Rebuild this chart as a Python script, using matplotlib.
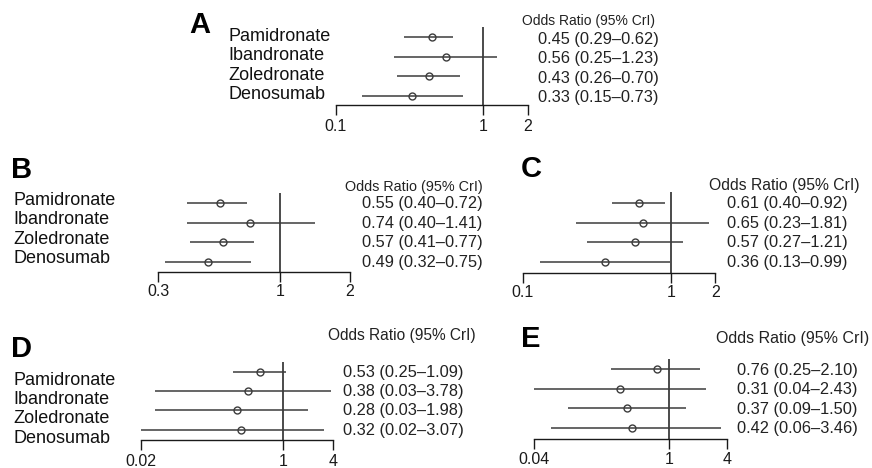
import matplotlib
matplotlib.use('Agg')
import matplotlib.pyplot as plt
import matplotlib.transforms as mtrans
from matplotlib.ticker import NullLocator, FixedLocator, FixedFormatter

plt.rcParams['font.family'] = ['Liberation Sans', 'DejaVu Sans']

W, H, DPI = 872, 468, 100

drugs = ['Pamidronate', 'Ibandronate', 'Zoledronate', 'Denosumab']
header = 'Odds Ratio (95% CrI)'

# ---- data ----
or_A = [0.45, 0.56, 0.43, 0.33]
lo_A = [0.29, 0.25, 0.26, 0.15]
hi_A = [0.62, 1.23, 0.70, 0.73]
ticks_A = [0.1, 1, 2]
tlabels_A = ['0.1', '1', '2']

or_B = [0.55, 0.74, 0.57, 0.49]
lo_B = [0.40, 0.40, 0.41, 0.32]
hi_B = [0.72, 1.41, 0.77, 0.75]
ticks_B = [0.3, 1, 2]
tlabels_B = ['0.3', '1', '2']

or_C = [0.61, 0.65, 0.57, 0.36]
lo_C = [0.40, 0.23, 0.27, 0.13]
hi_C = [0.92, 1.81, 1.21, 0.99]
ticks_C = [0.1, 1, 2]
tlabels_C = ['0.1', '1', '2']

or_D = [0.53, 0.38, 0.28, 0.32]
lo_D = [0.25, 0.03, 0.03, 0.02]
hi_D = [1.09, 3.78, 1.98, 3.07]
ticks_D = [0.02, 1, 4]
tlabels_D = ['0.02', '1', '4']

or_E = [0.76, 0.31, 0.37, 0.42]
lo_E = [0.25, 0.04, 0.09, 0.06]
hi_E = [2.10, 2.43, 1.50, 3.46]
ticks_E = [0.04, 1, 4]
tlabels_E = ['0.04', '1', '4']

# ---- layout (pixels from top-left) ----
panels = [
    dict(letter='A', d=(or_A, lo_A, hi_A), ticks=ticks_A, tl=tlabels_A,
         x0=335.7, x1=527.7, row0=37.3, row3=95.7, axis=105, top=27,
         lab_x=228, lab_off=3.5, let=(189, 33), hdr=(522, 25), hdr_fs=10.0,
         val_x=537.7, val_off=6.5, pad=3.0),
    dict(letter='B', d=(or_B, lo_B, hi_B), ticks=ticks_B, tl=tlabels_B,
         x0=158.3, x1=350, row0=203.3, row3=261.5, axis=272.3, top=193,
         lab_x=13, lab_off=1.5, let=(11, 178.5), hdr=(345, 191.5), hdr_fs=10.4,
         val_x=361.7, val_off=5, pad=1.6),
    dict(letter='C', d=(or_C, lo_C, hi_C), ticks=ticks_C, tl=tlabels_C,
         x0=522.7, x1=715.3, row0=203, row3=261.7, axis=272.7, top=191.7,
         lab_x=None, lab_off=0, let=(521, 177), hdr=(709.3, 190), hdr_fs=11.3,
         val_x=727, val_off=5, pad=1.6),
    dict(letter='D', d=(or_D, lo_D, hi_D), ticks=ticks_D, tl=tlabels_D,
         x0=140.7, x1=333.3, row0=371.7, row3=429.7, axis=440, top=361.7,
         lab_x=13, lab_off=13, let=(11, 356.7), hdr=(328.3, 340), hdr_fs=11.2,
         val_x=343.3, val_off=5, pad=3.0),
    dict(letter='E', d=(or_E, lo_E, hi_E), ticks=ticks_E, tl=tlabels_E,
         x0=534, x1=726.7, row0=369.3, row3=428, axis=439.3, top=359.3,
         lab_x=None, lab_off=0, let=(521, 346.7), hdr=(716, 343), hdr_fs=11.5,
         val_x=736.7, val_off=5.5, pad=2.1),
]

fig = plt.figure(figsize=(W / DPI, H / DPI), dpi=DPI)
fig.patch.set_facecolor('white')

def fx(x):
    return x / W

def fy(y):
    return 1 - y / H

LINE = '#3c3c3c'
AXC = '#1a1a1a'

for p in panels:
    ors, los, his = p['d']
    ax = fig.add_axes([fx(p['x0']), fy(p['axis']),
                       (p['x1'] - p['x0']) / W, (p['axis'] - p['top']) / H])
    ax.set_xscale('log')
    ax.set_xlim(p['ticks'][0], p['ticks'][-1])
    s = (p['row3'] - p['row0']) / 3.0
    ax.set_ylim(3 + (p['axis'] - p['row3']) / s, -(p['row0'] - p['top']) / s)
    ax.patch.set_alpha(0)
    for sp in ['top', 'right', 'left']:
        ax.spines[sp].set_visible(False)
    ax.spines['bottom'].set_linewidth(1.0)
    ax.spines['bottom'].set_color(AXC)
    ax.xaxis.set_major_locator(FixedLocator(p['ticks']))
    ax.xaxis.set_major_formatter(FixedFormatter(p['tl']))
    ax.xaxis.set_minor_locator(NullLocator())
    ax.tick_params(axis='x', direction='out', length=7, width=1.0, color=AXC,
                   labelsize=11.5, pad=p['pad'], labelcolor='#1a1a1a')
    ax.set_yticks([])

    ax.axvline(1, color=AXC, lw=1.1, zorder=1)
    ypos = list(range(len(drugs)))
    for i in ypos:
        ax.plot([los[i], his[i]], [i, i], color=LINE, lw=1.1, zorder=2,
                clip_on=False, solid_capstyle='butt')
    ax.plot(ors, ypos, linestyle='none', marker='o', markersize=5,
            markerfacecolor='none', markeredgecolor=LINE, markeredgewidth=1.0,
            zorder=3, clip_on=False)

    tr_lab = mtrans.blended_transform_factory(fig.transFigure, ax.transData)
    if p['lab_x'] is not None:
        t = mtrans.offset_copy(tr_lab, fig=fig, x=0, y=-p['lab_off'], units='dots')
        for i, name in enumerate(drugs):
            fig.text(fx(p['lab_x']), i, name, transform=t, fontsize=13,
                     va='baseline', ha='left', color='#111111')
    tv = mtrans.offset_copy(tr_lab, fig=fig, x=0, y=-p['val_off'], units='dots')
    for i in ypos:
        txt = f"{ors[i]:.2f} ({los[i]:.2f}\u2013{his[i]:.2f})"
        fig.text(fx(p['val_x']), i, txt, transform=tv, fontsize=11.8,
                 va='baseline', ha='left', color='#222222')

    fig.text(fx(p['hdr'][0]), fy(p['hdr'][1]), header, fontsize=p['hdr_fs'],
             va='baseline', ha='left', color='#222222')
    fig.text(fx(p['let'][0]), fy(p['let'][1]), p['letter'], fontsize=21,
             fontweight='bold', va='baseline', ha='left', color='black')

fig.savefig('out.png', dpi=DPI, facecolor='white')
